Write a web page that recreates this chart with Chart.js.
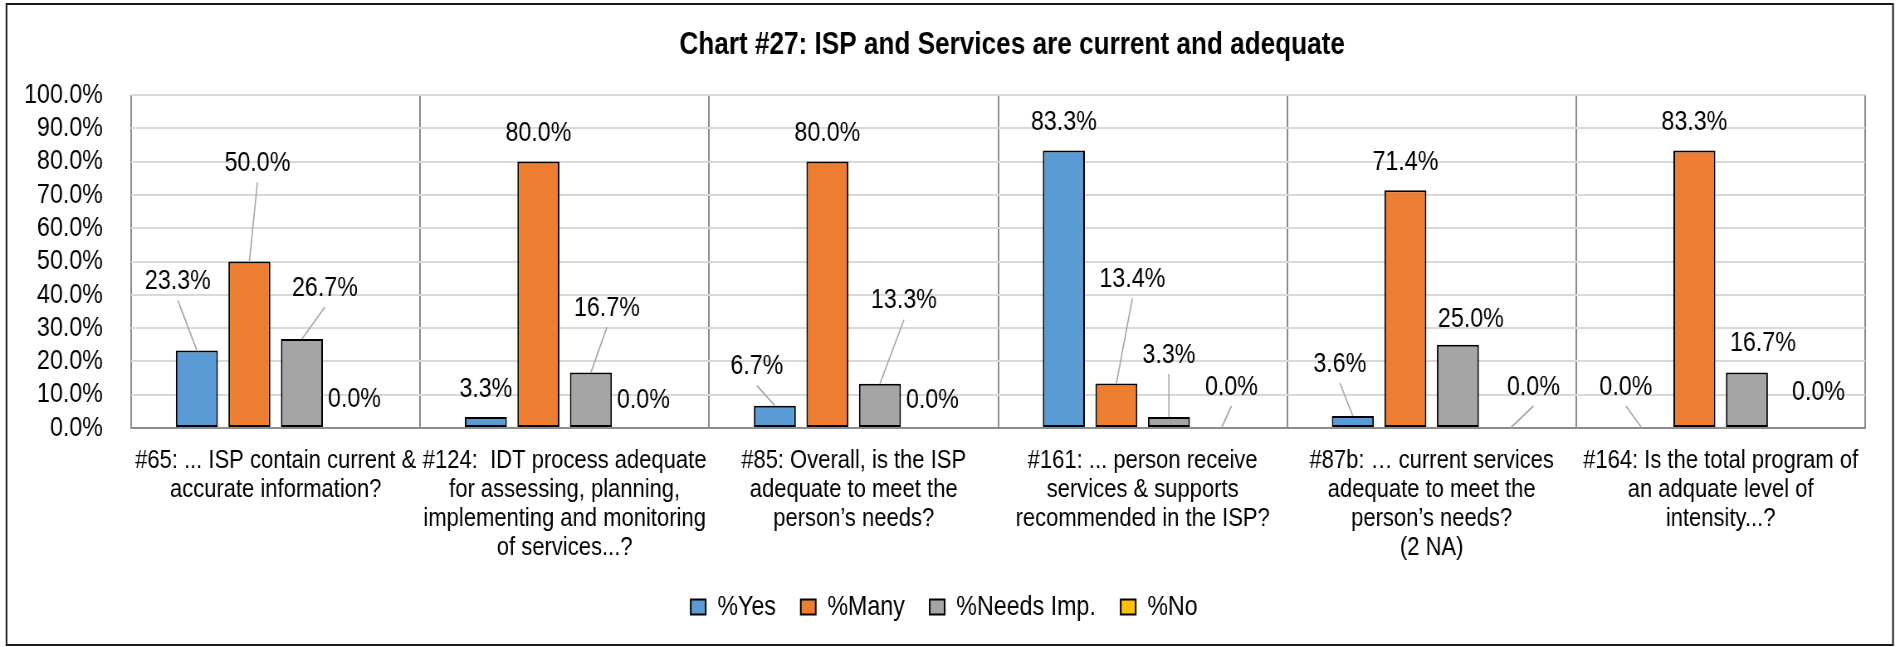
<!DOCTYPE html>
<html>
<head>
<meta charset="utf-8">
<script src="https://cdn.jsdelivr.net/npm/chart.js@4.4.1/dist/chart.umd.min.js"></script>
<style>
  html, body { margin: 0; padding: 0; background: #fff; overflow: hidden; }
  #wrap { position: relative; width: 1900px; height: 647px; overflow: hidden; }
  canvas { display: block; }
</style>
</head>
<body>
<div id="wrap"><canvas id="c" width="2289" height="647" style="width:1900px;height:647px"></canvas></div>
<script>
const chartTitle = 'Chart #27: ISP and Services are current and adequate';

const categories = [
  ['#65: ... ISP contain current &', 'accurate information?'],
  ['#124:  IDT process adequate', 'for assessing, planning,', 'implementing and monitoring', 'of services...?'],
  ['#85: Overall, is the ISP', 'adequate to meet the', 'person\u2019s needs?'],
  ['#161: ... person receive', 'services & supports', 'recommended in the ISP?'],
  ['#87b: \u2026 current services', 'adequate to meet the', 'person\u2019s needs?', '(2 NA)'],
  ['#164: Is the total program of', 'an adquate level of', 'intensity...?']
];

const seriesNames = ['%Yes', '%Many', '%Needs Imp.', '%No'];

const yesValues   = [23.3, 3.3, 6.7, 83.3, 3.6, 0.0];
const manyValues  = [50.0, 80.0, 80.0, 13.4, 71.4, 83.3];
const needsValues = [26.7, 16.7, 13.3, 3.3, 25.0, 16.7];
const noValues    = [0.0, 0.0, 0.0, 0.0, 0.0, 0.0];

const yTickValues = [0, 10, 20, 30, 40, 50, 60, 70, 80, 90, 100];

// label placement (dx, dy in screen px from bar top centre), as in the reference layout
const yesLabelOffsets   = [[-19,-69],[0,-28],[-18,-39],[0,-28],[-13,-52],[-16,-41]];
const manyLabelOffsets  = [[8,-98],[0,-28],[0,-28],[16,-104],[0,-28],[0,-28]];
const needsLabelOffsets = [[23,-51],[16,-64],[24,-83],[0,-62],[13,-25],[16,-29]];
const noLabelOffsets    = [[0,-29],[0,-28],[0,-28],[10,-41],[23,-41],[19,-36]];

// The reference uses a narrow face (Arial Narrow); the canvas is drawn wider
// and displayed at 1900px so that Liberation Sans renders with narrow proportions.
const SQUASH = 1900 / 2289;
const FONT = "'Liberation Sans', Arial, sans-serif";

const colors = ['#5B9BD5', '#ED7D31', '#A5A5A5', '#FFC000'];
const allValues = [yesValues, manyValues, needsValues, noValues];
const allOffsets = [yesLabelOffsets, manyLabelOffsets, needsLabelOffsets, noLabelOffsets];

const frameAndTitle = {
  id: 'frameAndTitle',
  beforeDraw(chart) {
    const ctx = chart.ctx;
    ctx.save();
    ctx.fillStyle = '#fff';
    ctx.fillRect(0, 0, chart.width, chart.height);
    ctx.restore();
  },
  afterDraw(chart) {
    const ctx = chart.ctx;
    const a = chart.chartArea;
    ctx.save();
    ctx.strokeStyle = '#1a1a1a';
    ctx.lineWidth = 2;
    ctx.strokeRect(6.5 / SQUASH, 4, (1893 - 6.5) / SQUASH, chart.height - 6);
    ctx.fillStyle = '#000';
    ctx.font = "bold 31.5px " + FONT;
    ctx.textAlign = 'center';
    ctx.textBaseline = 'middle';
    ctx.fillText(chartTitle, (a.left + a.right) / 2 + 14 / SQUASH, 45.5);
    ctx.restore();
  }
};

const dataLabels = {
  id: 'dataLabels',
  afterDatasetsDraw(chart) {
    const ctx = chart.ctx;
    ctx.save();
    ctx.font = "28px " + FONT;
    ctx.textAlign = 'center';
    ctx.textBaseline = 'middle';
    chart.data.datasets.forEach((ds, di) => {
      const meta = chart.getDatasetMeta(di);
      meta.data.forEach((bar, i) => {
        const off = allOffsets[di][i];
        const lx = bar.x + off[0] / SQUASH;
        const ly = bar.y + off[1];
        if (off[1] <= -39) {
          ctx.strokeStyle = '#A6A6A6';
          ctx.lineWidth = 1.6;
          ctx.beginPath();
          ctx.moveTo(lx, ly + 19);
          ctx.lineTo(bar.x, bar.y);
          ctx.stroke();
        }
        ctx.fillStyle = '#000';
        ctx.fillText(ds.data[i].toFixed(1) + '%', lx, ly);
      });
    });
    ctx.restore();
  }
};

new Chart(document.getElementById('c'), {
  type: 'bar',
  data: {
    labels: categories,
    datasets: seriesNames.map((name, k) => ({
      label: name,
      data: allValues[k],
      backgroundColor: colors[k],
      borderColor: '#000',
      borderWidth: 2,
      borderSkipped: false,
      categoryPercentage: 0.727,
      barPercentage: 0.8
    }))
  },
  options: {
    responsive: false,
    devicePixelRatio: 1,
    animation: false,
    layout: { padding: { top: 95, left: 28, right: 42, bottom: 16 } },
    plugins: {
      title: { display: false },
      tooltip: { enabled: false },
      legend: {
        position: 'bottom',
        labels: {
          font: { family: FONT, size: 28 },
          color: '#000',
          boxWidth: 18,
          boxHeight: 15,
          padding: 30
        }
      }
    },
    scales: {
      x: {
        grid: {
          display: true,
          offset: true,
          drawTicks: false,
          lineWidth: 2,
          color: (ctx) => ctx.index === categories.length ? '#D9D9D9' : '#8C8C8C'
        },
        border: { display: true, color: '#8C8C8C', width: 2 },
        ticks: {
          autoSkip: false,
          maxRotation: 0,
          minRotation: 0,
          padding: 18,
          color: '#000',
          font: { family: FONT, size: 26.5, lineHeight: 1.1 }
        },
        afterFit(scale) { scale.height = 135; }
      },
      y: {
        min: 0,
        max: 100,
        afterBuildTicks(scale) { scale.ticks = yTickValues.map(v => ({ value: v })); },
        grid: { color: '#D9D9D9', lineWidth: 2, drawTicks: false },
        border: { display: false },
        ticks: {
          autoSkip: false,
          padding: 34,
          color: '#000',
          font: { family: FONT, size: 28 },
          callback: (v) => Number(v).toFixed(1) + '%'
        },
        afterFit(scale) { scale.width = 130; }
      }
    }
  },
  plugins: [frameAndTitle, dataLabels]
});
</script>
</body>
</html>
